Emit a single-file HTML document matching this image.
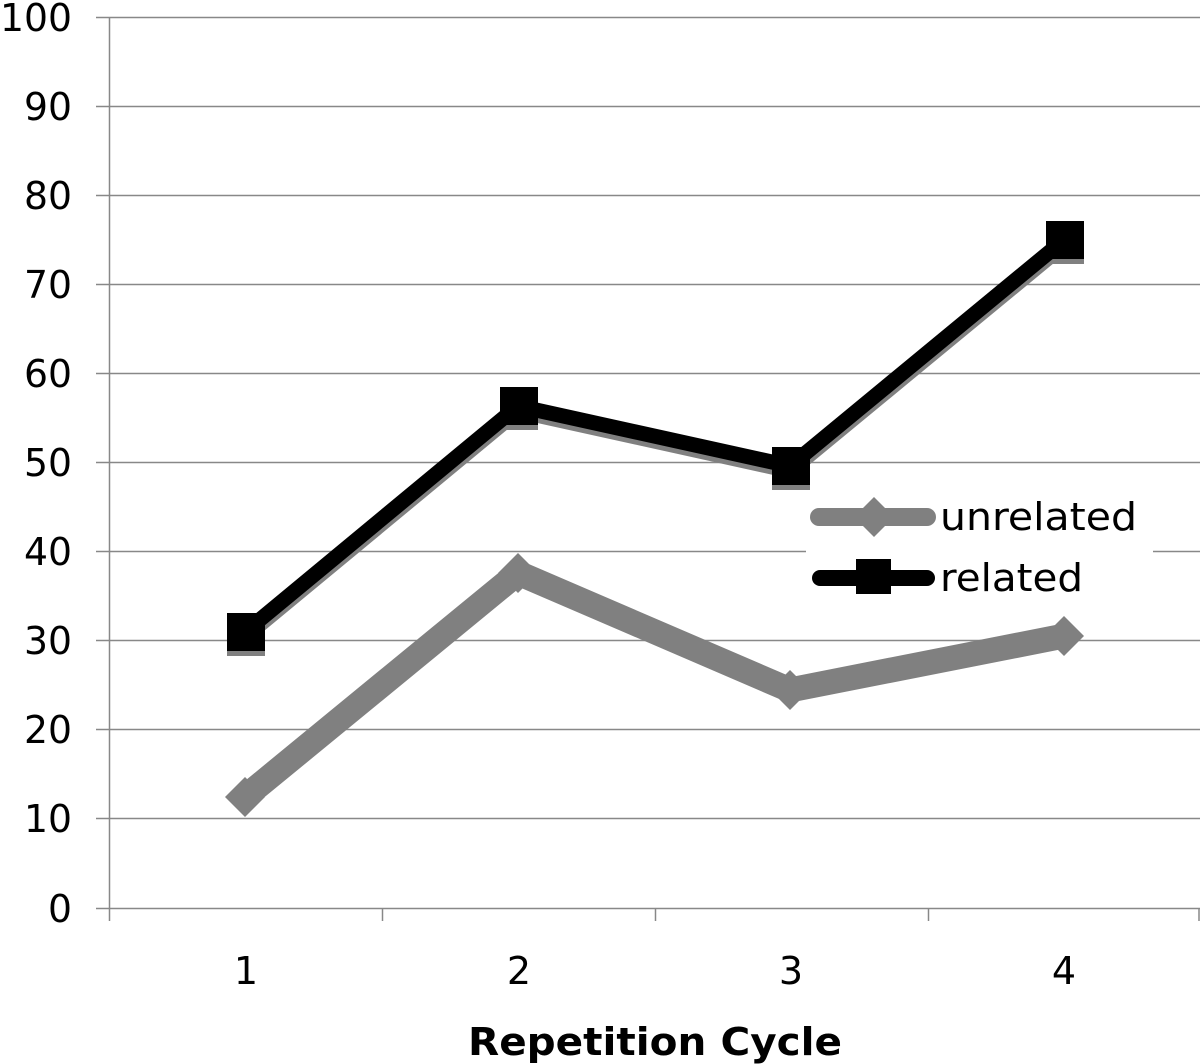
<!DOCTYPE html>
<html><head><meta charset="utf-8"><style>body{margin:0;background:#fff}svg{display:block}</style></head><body>
<svg width="1200" height="1064" viewBox="0 0 1200 1064" xmlns="http://www.w3.org/2000/svg" font-family="'DejaVu Sans','Liberation Sans',sans-serif">
<g stroke="#888" stroke-width="1.5">
<line x1="96" y1="17.5" x2="1200" y2="17.5"/>
<line x1="96" y1="106.5" x2="1200" y2="106.5"/>
<line x1="96" y1="195.5" x2="1200" y2="195.5"/>
<line x1="96" y1="284.5" x2="1200" y2="284.5"/>
<line x1="96" y1="373.5" x2="1200" y2="373.5"/>
<line x1="96" y1="462.5" x2="1200" y2="462.5"/>
<line x1="96" y1="551.5" x2="806" y2="551.5"/>
<line x1="1153" y1="551.5" x2="1200" y2="551.5"/>
<line x1="96" y1="640.5" x2="1200" y2="640.5"/>
<line x1="96" y1="729.5" x2="1200" y2="729.5"/>
<line x1="96" y1="818.5" x2="1200" y2="818.5"/>
<line x1="96" y1="908.5" x2="1200" y2="908.5"/>
<line x1="109.5" y1="17" x2="109.5" y2="921"/>
<line x1="382.5" y1="908" x2="382.5" y2="921"/>
<line x1="655.5" y1="908" x2="655.5" y2="921"/>
<line x1="928.5" y1="908" x2="928.5" y2="921"/>
<line x1="1199" y1="908" x2="1199" y2="921"/>
</g>
<g font-size="38" fill="#000">
<text x="0" y="31" textLength="72" lengthAdjust="spacingAndGlyphs">100</text>
<text x="24" y="120" textLength="48" lengthAdjust="spacingAndGlyphs">90</text>
<text x="24" y="209" textLength="48" lengthAdjust="spacingAndGlyphs">80</text>
<text x="24" y="298" textLength="48" lengthAdjust="spacingAndGlyphs">70</text>
<text x="24" y="387" textLength="48" lengthAdjust="spacingAndGlyphs">60</text>
<text x="24" y="476" textLength="48" lengthAdjust="spacingAndGlyphs">50</text>
<text x="24" y="565" textLength="48" lengthAdjust="spacingAndGlyphs">40</text>
<text x="24" y="654" textLength="48" lengthAdjust="spacingAndGlyphs">30</text>
<text x="24" y="743" textLength="48" lengthAdjust="spacingAndGlyphs">20</text>
<text x="24" y="832" textLength="48" lengthAdjust="spacingAndGlyphs">10</text>
<text x="48" y="922" textLength="24" lengthAdjust="spacingAndGlyphs">0</text>
</g>
<g font-size="38" fill="#000" text-anchor="middle">
<text x="246" y="984">1</text><text x="519" y="984">2</text><text x="791" y="984">3</text><text x="1064" y="984">4</text>
</g>
<text x="468" y="1055" font-size="38" font-weight="bold" textLength="374" lengthAdjust="spacingAndGlyphs">Repetition Cycle</text>
<!-- unrelated -->
<polyline points="245,797 518,573 790,690 1064,636" fill="none" stroke="#808080" stroke-width="25" stroke-linejoin="miter"/>
<g fill="#808080">
<path d="M245,777 L265,797 L245,817 L225,797Z"/><path d="M518,553 L538,573 L518,593 L498,573Z"/>
<path d="M790,670 L810,690 L790,710 L770,690Z"/><path d="M1064,616 L1084,636 L1064,656 L1044,636Z"/>
</g>
<polyline points="245,637 518,411 790,471 1064,245" fill="none" stroke="#808080" stroke-width="15"/>
<g fill="#808080">
<rect x="227" y="618" width="38" height="38"/><rect x="500" y="392" width="38" height="38"/>
<rect x="772" y="452" width="38" height="38"/><rect x="1046" y="226" width="38" height="38"/>
</g>
<polyline points="245,632 518,406 790,466 1064,240" fill="none" stroke="#000" stroke-width="15"/>
<g fill="#000">
<rect x="227" y="613" width="38" height="38"/><rect x="500" y="387" width="38" height="38"/>
<rect x="772" y="447" width="38" height="38"/><rect x="1046" y="221" width="38" height="38"/>
</g>
<line x1="819" y1="517" x2="927" y2="517" stroke="#808080" stroke-width="18" stroke-linecap="round"/>
<path d="M874,497 L894,517 L874,537 L854,517Z" fill="#808080"/>
<line x1="820" y1="578" x2="927" y2="578" stroke="#000" stroke-width="16" stroke-linecap="round"/>
<rect x="856" y="559" width="35" height="35" fill="#000"/>
<g font-size="38" fill="#000">
<text x="940" y="530" textLength="197" lengthAdjust="spacingAndGlyphs">unrelated</text>
<text x="940" y="591" textLength="143" lengthAdjust="spacingAndGlyphs">related</text>
</g>
</svg>
</body></html>
